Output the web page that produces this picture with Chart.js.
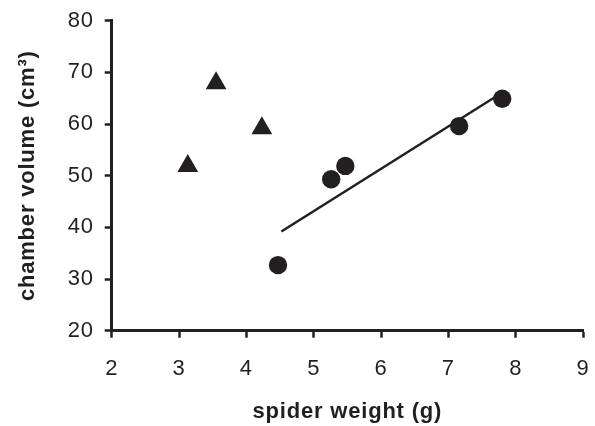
<!DOCTYPE html>
<html>
<head>
<meta charset="utf-8">
<script src="https://cdn.jsdelivr.net/npm/chart.js@4/dist/chart.umd.min.js"></script>
<style>
  html, body { margin: 0; padding: 0; background: #ffffff; }
  #wrap { width: 595px; height: 426px; position: relative; }
</style>
</head>
<body>
<div id="wrap"><canvas id="c" width="595" height="426"></canvas></div>
<script>
// ---- data ----
const triangleWeights = [3.13, 3.55, 4.23];
const triangleVolumes = [51.9, 67.9, 59.2];

const circleWeights = [4.47, 5.26, 5.47, 7.16, 7.80];
const circleVolumes = [32.7, 49.3, 51.9, 59.6, 64.9];

const fitLineWeights = [4.52, 7.79];
const fitLineVolumes = [39.2, 66.0];

const xTicks = [2, 3, 4, 5, 6, 7, 8, 9];
const yTicks = [20, 30, 40, 50, 60, 70, 80];

const xTitle = 'spider weight (g)';
const yTitle = 'chamber volume (cm\u00B3)';

const toPoints = (xs, ys) => xs.map((x, i) => ({ x: x, y: ys[i] }));

const ink = '#231f20';
const fam = 'Liberation Sans, Arial, sans-serif';

const spacing = {
  id: 'spacing',
  beforeDraw(chart) { chart.ctx.letterSpacing = '0.8px'; },
  afterDraw(chart) { chart.ctx.letterSpacing = '0px'; }
};

new Chart(document.getElementById('c'), {
  type: 'scatter',
  plugins: [spacing],
  data: {
    datasets: [
      {
        type: 'line',
        data: toPoints(fitLineWeights, fitLineVolumes),
        borderColor: ink,
        borderWidth: 2.5,
        pointRadius: 0,
        fill: false,
        order: 3
      },
      {
        data: toPoints(triangleWeights, triangleVolumes),
        pointStyle: 'triangle',
        pointRadius: 12,
        backgroundColor: ink,
        borderColor: ink,
        borderWidth: 0,
        order: 1
      },
      {
        data: toPoints(circleWeights, circleVolumes),
        pointStyle: 'circle',
        pointRadius: 9.2,
        backgroundColor: ink,
        borderColor: ink,
        borderWidth: 0,
        order: 1
      }
    ]
  },
  options: {
    responsive: false,
    animation: false,
    layout: { padding: { top: 20.7, right: 9, left: 0, bottom: 0 } },
    plugins: {
      legend: { display: false },
      tooltip: { enabled: false }
    },
    scales: {
      x: {
        type: 'linear',
        min: xTicks[0],
        max: xTicks[xTicks.length - 1],
        afterBuildTicks: (s) => { s.ticks = xTicks.map(v => ({ value: v })); },
        afterFit: (s) => { s.height = 95.3; s.paddingLeft = 0; s.paddingRight = 0; },
        ticks: {
          color: ink,
          padding: 18,
          font: { family: fam, size: 22 }
        },
        grid: {
          drawOnChartArea: false,
          drawTicks: true,
          tickLength: 7,
          tickWidth: 2.5,
          tickColor: ink
        },
        border: { display: true, color: ink, width: 3 },
        title: {
          display: true,
          text: xTitle,
          color: ink,
          padding: { top: 0, bottom: 1 },
          font: { family: fam, size: 22, weight: 'bold' }
        }
      },
      y: {
        type: 'linear',
        min: yTicks[0],
        max: yTicks[yTicks.length - 1],
        afterBuildTicks: (s) => { s.ticks = yTicks.map(v => ({ value: v })); },
        afterFit: (s) => { s.width = 111.7; s.paddingTop = 0; s.paddingBottom = 0; },
        ticks: {
          color: ink,
          padding: 11,
          font: { family: fam, size: 22 }
        },
        grid: {
          drawOnChartArea: false,
          drawTicks: true,
          tickLength: 7,
          tickWidth: 2.5,
          tickColor: ink
        },
        border: { display: true, color: ink, width: 3 },
        title: {
          display: true,
          text: yTitle,
          color: ink,
          padding: { top: 14.5, bottom: 0 },
          font: { family: fam, size: 22, weight: 'bold' }
        }
      }
    }
  }
});
</script>
</body>
</html>
